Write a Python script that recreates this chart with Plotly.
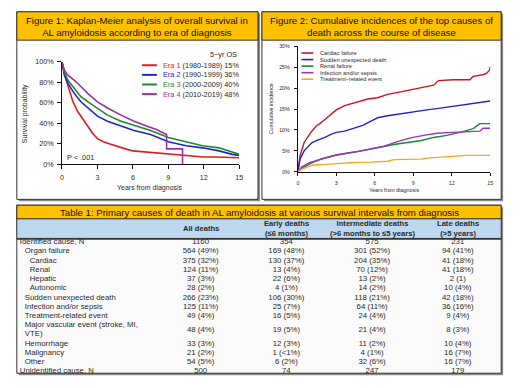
import plotly.graph_objects as go

# ---------------- Figure 1 data: Kaplan-Meier overall survival (%) ----------------
era_names = ["Era 1", "Era 2", "Era 3", "Era 4"]
era_periods = ["(1980-1989)", "(1990-1999)", "(2000-2009)", "(2010-2019)"]
era_os5 = ["15%", "36%", "40%", "48%"]

era1_t = [0, 0.2, 0.5, 0.9, 1.3, 1.75, 2.2, 2.6, 3.0, 3.5, 4.0, 4.5, 5.0, 5.5, 6.0, 7.0, 8.0, 9.0, 10.0, 11.0, 12.0, 13.0, 14.0, 15.0]
era1_s = [100, 89, 77, 62, 52, 44, 36, 30, 25, 22, 20, 18, 16, 14.5, 13, 12, 11, 10, 8.5, 7.5, 7, 7, 6.5, 6.3]
era2_t = [0, 0.2, 0.5, 1.05, 1.6, 2.2, 3.0, 3.85, 5.0, 6.1, 7.5, 9.0, 10.5, 11.9, 13.3, 14.4, 15.0]
era2_s = [100, 87, 79, 69, 61, 55, 47, 42, 37, 33, 29, 22, 18, 16, 13, 9.6, 8.6]
era3_t = [0, 0.2, 0.5, 1.05, 1.6, 2.2, 3.0, 3.85, 5.0, 6.1, 7.5, 9.0, 10.5, 11.9, 13.3, 14.4, 15.0]
era3_s = [100, 90, 82, 74, 66, 61, 55, 48, 42, 38, 33, 26, 22, 18, 16, 12, 9.6]
era4_t = [0, 0.2, 0.5, 1.05, 1.6, 2.2, 3.0, 3.85, 5.0, 6.1, 7.2, 8.0, 8.5, 8.85, 8.85, 10.2, 10.2]
era4_s = [100, 92, 87, 82, 76, 69, 61, 55, 48, 42, 37, 34, 31, 29, 15, 15, 0]
p_value_text = "P < .001"
os_header = "5\u2212yr OS"
fig1_xticks = [0, 3, 6, 9, 12, 15]
fig1_yticks = [0, 20, 40, 60, 80, 100]

# ---------------- Figure 2 data: cumulative incidence (%) ----------------
cause_names = ["Cardiac failure", "Sudden unexpected death", "Renal failure",
               "Infection and/or sepsis", "Treatment\u2212related event"]
cardiac_t = [0, 0.18, 0.49, 0.82, 1.08, 1.46, 1.72, 2.11, 2.62, 3.0, 3.65, 4.42, 5.45, 6.22, 6.99,
             8.01, 9.04, 10.07, 10.58, 10.97, 12.12, 13.41, 13.67, 14.44, 14.69, 14.95, 15.0]
cardiac_v = [0, 3.9, 7.0, 8.6, 9.7, 11.0, 11.5, 12.5, 13.9, 14.8, 15.8, 16.5, 17.4, 17.7, 18.5,
             19.1, 19.7, 20.4, 20.7, 21.8, 22.0, 22.0, 22.8, 23.2, 23.5, 24.3, 25.1]
sud_t = [0, 0.18, 0.49, 0.82, 1.08, 1.59, 2.11, 2.62, 3.0, 3.65, 4.42, 5.06, 5.7, 6.22, 6.99,
         8.01, 9.04, 10.07, 11.1, 12.12, 13.15, 14.18, 15.0]
sud_v = [0, 3.1, 5.0, 6.2, 6.9, 7.6, 8.2, 9.0, 9.4, 9.7, 10.5, 11.1, 12.1, 12.9, 13.4,
         13.9, 14.4, 14.8, 15.2, 15.6, 16.0, 16.5, 16.9]
renal_t = [0, 0.31, 0.82, 1.34, 1.85, 3.0, 4.42, 5.7, 6.47, 7.5, 8.53, 9.56, 10.58, 11.61, 12.64, 13.67, 14.18, 15.0]
renal_v = [0, 0.8, 1.7, 2.5, 3.0, 4.0, 4.7, 5.5, 6.0, 6.5, 7.0, 7.4, 8.2, 8.7, 9.4, 10.3, 11.5, 11.5]
inf_t = [0, 0.31, 0.95, 1.34, 1.85, 3.0, 4.42, 5.7, 6.73, 7.76, 8.79, 9.81, 10.84, 12.12, 13.41, 14.18, 14.44, 15.0]
inf_v = [0, 1.2, 2.2, 2.5, 3.1, 4.0, 4.7, 5.5, 6.1, 7.2, 8.1, 8.7, 9.2, 9.4, 9.5, 9.7, 10.4, 10.4]
trt_t = [0, 0.31, 0.82, 1.21, 1.85, 3.0, 4.42, 5.7, 6.99, 7.5, 9.56, 10.33, 11.61, 12.64, 13.15, 15.0]
trt_v = [0, 0.6, 1.2, 1.6, 1.7, 2.0, 2.2, 2.3, 2.5, 2.9, 3.0, 3.3, 3.6, 3.7, 3.9, 3.9]
fig2_xticks = [0, 3, 6, 9, 12, 15]
fig2_yticks = [0, 5, 10, 15, 20, 25, 30]

# ---------------- Table 1 data ----------------
col_headers = ["All deaths", "Early deaths\n(\u22646 months)",
               "Intermediate deaths\n(>6 months to \u22645 years)", "Late deaths\n(>5 years)"]
row_labels = ["Identified cause, N", "Organ failure", "Cardiac", "Renal", "Hepatic", "Autonomic",
              "Sudden unexpected death", "Infection and/or sepsis", "Treatment-related event",
              "Major vascular event (stroke, MI,\nVTE)", "Hemorrhage", "Malignancy", "Other",
              "Unidentified cause, N"]
row_level = [0, 1, 2, 2, 2, 2, 1, 1, 1, 1, 1, 1, 1, 0]
all_deaths = ["1160", "564 (49%)", "375 (32%)", "124 (11%)", "37 (3%)", "28 (2%)", "266 (23%)",
              "125 (11%)", "49 (4%)", "48 (4%)", "33 (3%)", "21 (2%)", "54 (5%)", "500"]
early_deaths = ["354", "169 (48%)", "130 (37%)", "13 (4%)", "22 (6%)", "4 (1%)", "106 (30%)",
                "25 (7%)", "16 (5%)", "19 (5%)", "12 (3%)", "1 (<1%)", "6 (2%)", "74"]
intermediate_deaths = ["575", "301 (52%)", "204 (35%)", "70 (12%)", "13 (2%)", "14 (2%)", "118 (21%)",
                       "64 (11%)", "24 (4%)", "21 (4%)", "11 (2%)", "4 (1%)", "32 (6%)", "247"]
late_deaths = ["231", "94 (41%)", "41 (18%)", "41 (18%)", "2 (1)", "10 (4%)", "42 (18%)",
               "36 (16%)", "9 (4%)", "8 (3%)", "10 (4%)", "16 (7%)", "16 (7%)", "179"]

fig1_title = "Figure 1: Kaplan-Meier analysis of overall survival in<br>AL amyloidosis according to era of diagnosis"
fig2_title = "Figure 2: Cumulative incidences of the top causes of<br>death across the course of disease"
table_title = "Table 1: Primary causes of death in AL amyloidosis at various survival intervals from diagnosis"

# ---------------- styling / layout helpers ----------------
W, H = 520, 388
FONT = "Liberation Sans, Arial, sans-serif"
GOLD = "#FFC000"
HEADBLUE = "#BDD7EE"
EDGE = "#333333"
TXT = "#2a2a2a"
era_colors = ["#DA1F1F", "#2323CC", "#1E8A2C", "#9A2FA6"]
cause_colors = ["#CC1420", "#2222D0", "#168A2C", "#9C33B2", "#F5A623"]


def px(x):
    return x / W


def py(y):
    return 1 - y / H


fig = go.Figure()

# Figure 1 curves
for t, s, c in zip([era1_t, era2_t, era3_t, era4_t], [era1_s, era2_s, era3_s, era4_s], era_colors):
    fig.add_trace(go.Scatter(x=t, y=s, mode="lines", line=dict(color=c, width=1.6),
                             xaxis="x", yaxis="y", showlegend=False, hoverinfo="skip", cliponaxis=False))

# Figure 2 curves
for t, v, c in zip([cardiac_t, sud_t, renal_t, inf_t, trt_t],
                   [cardiac_v, sud_v, renal_v, inf_v, trt_v], cause_colors):
    fig.add_trace(go.Scatter(x=t, y=v, mode="lines", line=dict(color=c, width=1.4),
                             xaxis="x2", yaxis="y2", showlegend=False, hoverinfo="skip", cliponaxis=False))

# Table body through its own (hidden) axes: x = column index, y = text line index
LINE_PX = 9.43          # pixel height of one text line in the table
FIRST_LINE_PX = 244     # pixel y of first body line
COL1_PX = 201           # pixel x of first value column
COL_PITCH_PX = 86.7
INDENT_PX = 5


def line_of(pix):
    return (pix - FIRST_LINE_PX) / LINE_PX


def col_of(pix):
    return 1 + (pix - COL1_PX) / COL_PITCH_PX


label_x, label_y, label_txt = [], [], []
row_center = []
line = 0
for lab, lvl in zip(row_labels, row_level):
    parts = lab.split("\n")
    for k, p in enumerate(parts):
        label_x.append(col_of(18 + lvl * INDENT_PX))
        label_y.append(line + k)
        label_txt.append(p)
    row_center.append(line + (len(parts) - 1) / 2)
    line += len(parts)

fig.add_trace(go.Scatter(x=label_x, y=label_y, text=label_txt, mode="text", textposition="middle right",
                         textfont=dict(family=FONT, size=7.8, color=TXT),
                         xaxis="x3", yaxis="y3", showlegend=False, hoverinfo="skip", cliponaxis=False))
for j, col in enumerate([all_deaths, early_deaths, intermediate_deaths, late_deaths]):
    fig.add_trace(go.Scatter(x=[j + 1] * len(col), y=row_center, text=col, mode="text",
                             textposition="middle center",
                             textfont=dict(family=FONT, size=7.8, color=TXT),
                             xaxis="x3", yaxis="y3", showlegend=False, hoverinfo="skip", cliponaxis=False))

annotations = []
for j, h in enumerate(col_headers):
    annotations.append(dict(x=j + 1, y=line_of(229.8), xref="x3", yref="y3", showarrow=False,
                            text="<b>" + h.replace("\n", "<br>") + "</b>", xanchor="center", yanchor="middle",
                            font=dict(family=FONT, size=7.6, color=TXT)))

# titles
annotations.append(dict(x=px(137), y=py(23), xref="paper", yref="paper", showarrow=False, text=fig1_title,
                        xanchor="center", yanchor="middle", font=dict(family=FONT, size=9.6, color="#111")))
annotations.append(dict(x=px(384), y=py(23), xref="paper", yref="paper", showarrow=False, text=fig2_title,
                        xanchor="center", yanchor="middle", font=dict(family=FONT, size=9.6, color="#111")))
annotations.append(dict(x=px(260), y=py(213), xref="paper", yref="paper", showarrow=False, text=table_title,
                        xanchor="center", yanchor="middle", font=dict(family=FONT, size=9.6, color="#111")))

# axis titles and other texts
annotations += [
    dict(x=px(150), y=py(188), xref="paper", yref="paper", showarrow=False, text="Years from diagnosis",
         xanchor="center", yanchor="middle", font=dict(family=FONT, size=7, color=TXT)),
    dict(x=px(24), y=py(112), xref="paper", yref="paper", showarrow=False, text="Survival probability",
         textangle=-90, xanchor="center", yanchor="middle", font=dict(family=FONT, size=7, color=TXT)),
    dict(x=px(397), y=py(190), xref="paper", yref="paper", showarrow=False, text="Years from diagnosis",
         xanchor="center", yanchor="middle", font=dict(family=FONT, size=5.4, color=TXT)),
    dict(x=px(272), y=py(107), xref="paper", yref="paper", showarrow=False, text="Cumulative incidence",
         textangle=-90, xanchor="center", yanchor="middle", font=dict(family=FONT, size=5.4, color=TXT)),
    dict(x=px(64), y=py(157), xref="paper", yref="paper", showarrow=False, text=p_value_text,
         xanchor="left", yanchor="middle", font=dict(family=FONT, size=7.3, color=TXT)),
    dict(x=px(240), y=py(52), xref="paper", yref="paper", showarrow=False, text=os_header,
         xanchor="right", yanchor="middle", font=dict(family=FONT, size=7.3, color=TXT)),
]

shapes = []


def rect(x0, y0, x1, y1, fill, lc=EDGE, lw=1):
    return dict(type="rect", xref="paper", yref="paper", x0=px(x0), x1=px(x1), y0=py(y1), y1=py(y0),
                fillcolor=fill, line=dict(color=lc, width=lw), layer="below")


# shadows
shapes += [rect(17, 10, 261, 202, "#8a8a8a", lw=0), rect(265, 10, 507, 202, "#8a8a8a", lw=0),
           rect(17, 208, 507, 380, "#8a8a8a", lw=0)]
# panels
shapes += [rect(15, 8, 259, 200, "white"), rect(15, 8, 259, 37, GOLD),
           rect(263, 8, 505, 200, "white"), rect(263, 8, 505, 37, GOLD),
           rect(15, 206, 505, 378, "#FBFBFB"), rect(15, 206, 505, 220, GOLD),
           rect(15, 220, 505, 240, HEADBLUE, lw=0.8)]
shapes.append(dict(type="line", xref="paper", yref="paper", x0=px(15), x1=px(505), y0=py(240.5), y1=py(240.5),
                   line=dict(color=EDGE, width=1.6), layer="below"))

# Figure 1 legend
for i, (n, per, os5, c) in enumerate(zip(era_names, era_periods, era_os5, era_colors)):
    yy = 62.7 + i * 9.85
    shapes.append(dict(type="line", xref="paper", yref="paper", x0=px(141.7), x1=px(156.7), y0=py(yy), y1=py(yy),
                       line=dict(color=c, width=2)))
    annotations.append(dict(x=px(161), y=py(yy), xref="paper", yref="paper", showarrow=False,
                            text=f'<span style="color:{c}">{n}</span> {per} {os5}',
                            xanchor="left", yanchor="middle", font=dict(family=FONT, size=7.3, color=TXT)))

# Figure 2 legend
for i, (n, c) in enumerate(zip(cause_names, cause_colors)):
    yy = 50.2 + i * 6.7
    shapes.append(dict(type="line", xref="paper", yref="paper", x0=px(303), x1=px(315), y0=py(yy), y1=py(yy),
                       line=dict(color=c, width=1.6)))
    annotations.append(dict(x=px(319.5), y=py(yy), xref="paper", yref="paper", showarrow=False, text=n,
                            xanchor="left", yanchor="middle", font=dict(family=FONT, size=5.7, color=TXT)))

axis_base = dict(showgrid=False, zeroline=False, showline=True, linecolor="#111", linewidth=1,
                 ticks="outside", tickcolor="#111", fixedrange=True, tickmode="array")

fig.update_layout(
    width=W, height=H, margin=dict(l=0, r=0, t=0, b=0),
    paper_bgcolor="white", plot_bgcolor="rgba(0,0,0,0)",
    font=dict(family=FONT, color=TXT),
    xaxis=dict(axis_base, domain=[px(60.7), px(240)], range=[0, 15], tickvals=fig1_xticks,
               ticktext=[str(v) for v in fig1_xticks],
               ticklen=4, tickwidth=1, tickfont=dict(size=7.2, color=TXT), anchor="y", ticklabelstandoff=2),
    yaxis=dict(axis_base, domain=[py(164), py(59.3)], range=[0, 100], tickvals=fig1_yticks,
               ticktext=[f"{v}%" for v in fig1_yticks], ticklen=4, tickwidth=1,
               tickfont=dict(size=7.2, color=TXT), anchor="x", ticklabelstandoff=2),
    xaxis2=dict(axis_base, domain=[px(299.3), px(494)], range=[0, 15], tickvals=fig2_xticks,
                ticktext=[str(v) for v in fig2_xticks],
                ticklen=3, tickwidth=0.8, tickfont=dict(size=5.3, color=TXT), anchor="y2", ticklabelstandoff=3),
    yaxis2=dict(axis_base, domain=[py(171.7), py(43.3)], range=[0, 30], tickvals=fig2_yticks,
                ticktext=[f"{v}%" for v in fig2_yticks], ticklen=3, tickwidth=0.8,
                tickfont=dict(size=5.3, color=TXT), anchor="x2", ticklabelstandoff=3),
    xaxis3=dict(domain=[px(15), px(505)], range=[col_of(15), col_of(505)], visible=False, fixedrange=True,
                anchor="y3"),
    yaxis3=dict(domain=[py(378), py(206)], range=[line_of(378), line_of(206)], visible=False, fixedrange=True,
                anchor="x3"),
    shapes=shapes, annotations=annotations,
)

fig.write_html("out.html", include_plotlyjs=True, config={"displayModeBar": False},
               post_script="document.body.style.margin='0';document.body.style.overflow='hidden';")
